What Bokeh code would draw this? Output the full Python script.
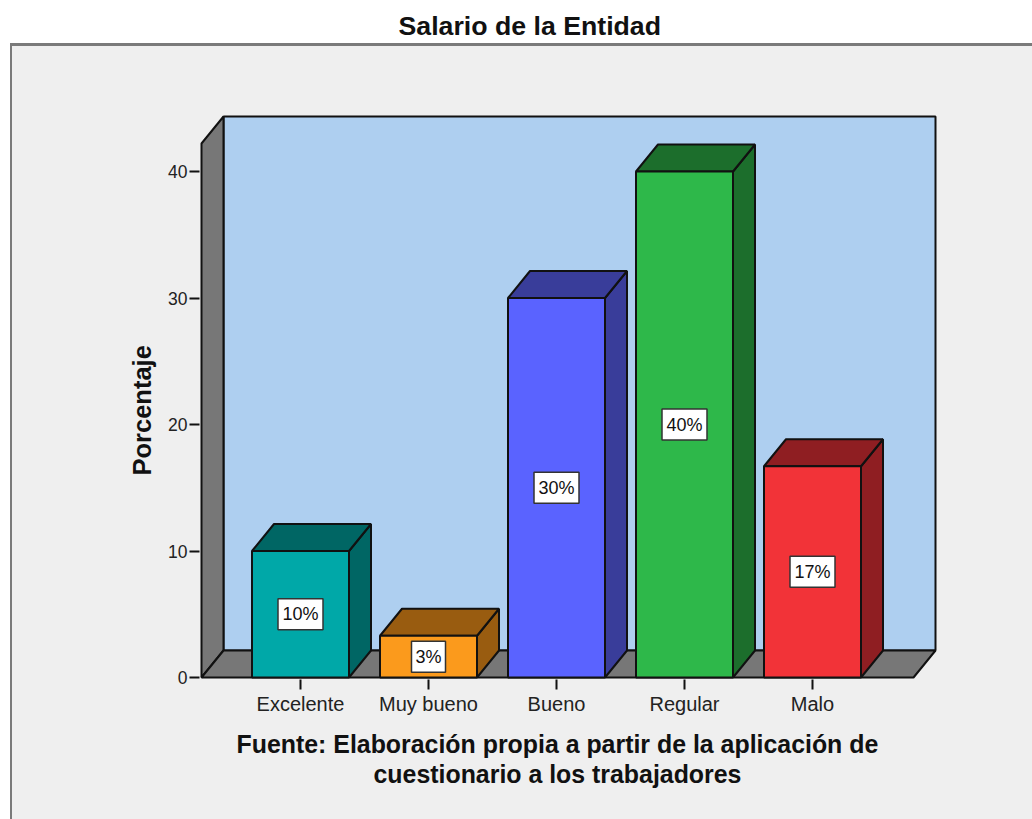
from bokeh.plotting import figure
from bokeh.embed import file_html
from bokeh.resources import INLINE
from bokeh.core.properties import value
from bokeh.models import ColumnDataSource, Title, FixedTicker, Range1d

title = "Salario de la Entidad"
y_title = "Porcentaje"
caption = ["Fuente: Elaboración propia a partir de la aplicación de",
           "cuestionario a los trabajadores"]
categories = ["Excelente", "Muy bueno", "Bueno", "Regular", "Malo"]
values = [10, 3.3, 30, 40, 16.7]
pct_labels = ["10%", "3%", "30%", "40%", "17%"]
y_ticks = [0, 10, 20, 30, 40]
front_colors = ["#00a8a8", "#fb9a1c", "#5a63ff", "#2eb84a", "#f23338"]
dark_colors = ["#006664", "#995c10", "#393d9a", "#1c6e2c", "#8f1e22"]
WALL = "#aecff0"
GRAY = "#777777"
BG = "#efefef"
INK = "#111111"

# scales: pixels per data unit
PX_X = 128.0
PX_Y = 12.65
W, H = 1032, 819
L, R, T, B = 201, 935, 116, 677
PAD = 2
X0 = 300
DX = 22 / PX_X
DY = 27 / PX_Y
BAR = 97 / PX_X / 2

x_lo = (L - X0) / PX_X
x_hi = (R - X0) / PX_X
y_hi = (B - T) / PX_Y
wall_y = y_hi - DY
px, py = PAD / PX_X, PAD / PX_Y

p = figure(width=W, height=H, output_backend="svg", toolbar_location=None,
           x_range=Range1d(x_lo - px, x_hi + px), y_range=Range1d(-py, y_hi + py),
           min_border_left=L - PAD, min_border_right=W - (R + PAD),
           min_border_top=T - PAD, min_border_bottom=H - (B + PAD),
           background_fill_color=None, border_fill_color=None, outline_line_color=None)
p.styles = {"background":
            f"linear-gradient({BG},{BG}) 12px 46px / 100% 100% no-repeat,"
            f"linear-gradient(#7a7a7a,#7a7a7a) 10px 43px / 100% 100% no-repeat,"
            "white"}
p.grid.visible = False

p.title.text = title
p.title.text_font = "Liberation Sans"
p.title.text_font_size = "26.7px"
p.title.text_font_style = "bold"
p.title.text_color = INK
p.title.align = "left"
p.title.vertical_align = "top"
p.title.offset = 197 + PAD
p.title.standoff = 12

# empty spacer that lifts the title away from the plot
p.add_layout(Title(text=" ", text_font_size="26px", standoff=34), "above")

# back wall, side wall, floor
kw = dict(line_color=INK, line_width=2)
p.patch([x_lo + DX, x_hi, x_hi, x_lo + DX], [DY, DY, y_hi, y_hi], fill_color=WALL, **kw)
p.patch([x_lo, x_lo + DX, x_lo + DX, x_lo], [0, DY, y_hi, wall_y], fill_color=GRAY, **kw)
p.patch([x_lo, x_lo + DX, x_hi, x_hi - DX], [0, DY, DY, 0], fill_color=GRAY, **kw)

# bars
for i, v in enumerate(values):
    l, r = i - BAR, i + BAR
    p.patch([r, r + DX, r + DX, r], [0, DY, v + DY, v], fill_color=dark_colors[i], **kw)
    p.patch([l, l + DX, r + DX, r], [v, v + DY, v + DY, v], fill_color=dark_colors[i], **kw)
    p.quad(left=l, right=r, bottom=0, top=v, fill_color=front_colors[i], **kw)

src = ColumnDataSource(dict(x=list(range(len(values))), y=[v / 2 for v in values], t=pct_labels,
                            w=[11 * len(t) + 12 for t in pct_labels]))
p.rect(x="x", y="y", width="w", height=31, width_units="screen", height_units="screen", source=src,
       fill_color="white", line_color="#333333", line_width=1.5)
p.text(x="x", y="y", text="t", source=src, text_align="center", text_baseline="middle",
       text_font=value("Liberation Sans"), text_font_size="18px", text_color=INK)

ax = p.xaxis[0]
ax.ticker = FixedTicker(ticks=list(range(len(categories))))
ax.major_label_overrides = {i: c for i, c in enumerate(categories)}
ay = p.yaxis[0]
ay.ticker = FixedTicker(ticks=y_ticks)
for a in (ax, ay):
    a.axis_line_color = None
    a.major_tick_line_color = INK
    a.major_tick_line_width = 2
    a.major_tick_in = 0
    a.major_tick_out = 10
    a.minor_tick_line_color = None
    a.major_label_text_font = "Liberation Sans"
    a.major_label_text_color = "#222222"
ax.major_label_text_font_size = "20px"
ay.major_label_text_font_size = "17.5px"
ax.major_label_standoff = 3
ay.major_label_standoff = 2


def side_title(text, side, offset, standoff, size):
    p.add_layout(Title(text=text, align="left", offset=offset, standoff=standoff,
                       text_font="Liberation Sans", text_font_style="bold",
                       text_font_size=size, text_color=INK), side)


side_title(y_title, "left", 204, 20, "25.5px")
side_title(caption[0], "below", 37, 20, "24.9px")
side_title(caption[1], "below", 174, -19, "24.9px")

open("out.html", "w").write(file_html(p, INLINE))
